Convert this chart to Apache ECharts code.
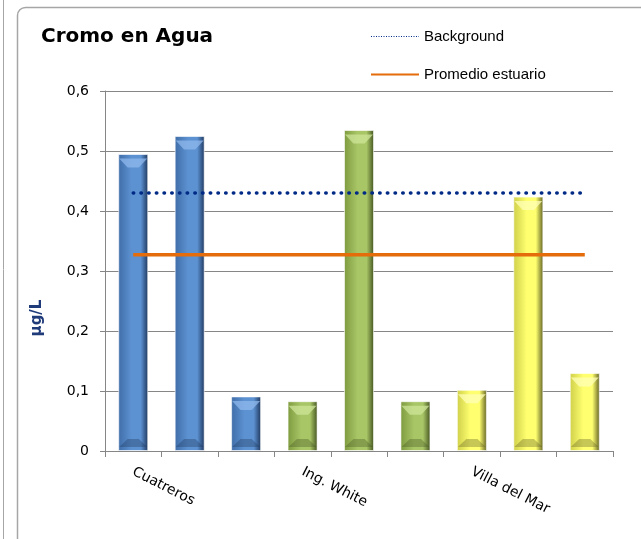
<!DOCTYPE html>
<html>
<head>
<meta charset="utf-8">
<script src="https://cdn.jsdelivr.net/npm/echarts@6/dist/echarts.min.js"></script>
<style>
html, body { margin: 0; padding: 0; background: #fff; }
#main { width: 641px; height: 539px; }
</style>
</head>
<body>
<div id="main"></div>
<script>
var stations = ['Cuatreros', 'Ing. White', 'Villa del Mar'];
var cuatreros = [0.495, 0.525, 0.091];
var ingWhite = [0.083, 0.535, 0.083];
var villaDelMar = [0.102, 0.424, 0.13];
var background = [0.43, 0.43, 0.43, 0.43, 0.43, 0.43, 0.43, 0.43, 0.43];
var promedio = [0.327, 0.327, 0.327, 0.327, 0.327, 0.327, 0.327, 0.327, 0.327];
var yTicks = ['0', '0,1', '0,2', '0,3', '0,4', '0,5', '0,6'];

// colores de cada estacion: claro, medio, oscuro, brillo
var palettes = [
    ['#3f6da8', '#5d92d2', '#1d365c', '#8fb8ec'],
    ['#7e9a3f', '#a8c666', '#435320', '#cde69a'],
    ['#cfcf4a', '#ffff70', '#5f5f22', '#ffffb8']
];

function barColor(p) {
    return new echarts.graphic.LinearGradient(0, 0, 1, 0, [
        {offset: 0, color: p[0]},
        {offset: 0.45, color: p[1]},
        {offset: 0.75, color: p[1]},
        {offset: 1, color: p[2]}
    ]);
}

var categories = [];
var barData = [];
var topData = [];
var baseData = [];
[cuatreros, ingWhite, villaDelMar].forEach(function (vals, g) {
    vals.forEach(function (v, i) {
        categories.push(i === 0 ? stations[g] : '');
        barData.push({value: v, itemStyle: {color: barColor(palettes[g])}});
        topData.push({value: v, itemStyle: {color: palettes[g][3], opacity: 0.75}});
        baseData.push({value: v, itemStyle: {color: palettes[g][2], opacity: 0.35}});
    });
});

var myChart = echarts.init(document.getElementById('main'));
var option = {
    animation: false,
    title: {
        text: 'Cromo en Agua',
        left: 36,
        top: 22,
        textStyle: {
            fontFamily: 'DejaVu Sans',
            fontSize: 20,
            fontWeight: 'bold',
            color: '#000'
        }
    },
    legend: {
        orient: 'vertical',
        left: 365,
        top: 24,
        itemWidth: 48,
        itemHeight: 14,
        itemGap: 23,
        itemStyle: {opacity: 0},
        textStyle: {
            fontFamily: 'Liberation Sans',
            fontSize: 15,
            color: '#000',
            padding: [0, 0, 0, 0]
        },
        data: [
            {name: 'Background', lineStyle: {width: 1.2, type: [1, 1.5], cap: 'butt'}},
            {name: 'Promedio estuario', lineStyle: {width: 2}}
        ]
    },
    graphic: [
        {type: 'line', shape: {x1: 3.5, y1: 0, x2: 3.5, y2: 539}, style: {stroke: '#a6a6a6', lineWidth: 1}},
        {type: 'rect', shape: {x: 17.5, y: 7.5, width: 700, height: 600, r: 8}, style: {fill: 'none', stroke: '#a6a6a6', lineWidth: 1.5}},
        {
            type: 'text',
            x: 37,
            y: 318,
            rotation: Math.PI / 2,
            style: {
                text: 'µg/L',
                fontFamily: 'DejaVu Sans',
                fontSize: 15,
                fontWeight: 'bold',
                fill: '#1f3b7a',
                align: 'center',
                verticalAlign: 'middle'
            }
        }
    ],
    grid: {left: 105, right: 28, top: 91, bottom: 88},
    xAxis: {
        type: 'category',
        data: categories,
        axisLine: {lineStyle: {color: '#868686'}},
        axisTick: {show: true, length: 6, interval: 0, lineStyle: {color: '#868686'}},
        axisLabel: {
            interval: 0,
            rotate: -27,
            margin: 20,
            fontFamily: 'DejaVu Sans',
            fontSize: 14,
            color: '#000'
        }
    },
    yAxis: {
        type: 'value',
        min: 0,
        max: 0.6,
        interval: 0.1,
        axisLine: {show: true, lineStyle: {color: '#868686'}},
        axisTick: {show: true, length: 5, lineStyle: {color: '#868686'}},
        splitLine: {lineStyle: {color: '#868686'}},
        axisLabel: {
            margin: 16,
            fontFamily: 'DejaVu Sans',
            fontSize: 14,
            color: '#000',
            formatter: function (v) { return yTicks[Math.round(v * 10)]; }
        }
    },
    series: [
        {
            name: 'valores',
            type: 'bar',
            barWidth: 30,
            data: barData,
            itemStyle: {borderColor: 'rgba(255,255,255,0.6)', borderWidth: 1}
        },
        {
            name: 'brillo',
            type: 'pictorialBar',
            barWidth: 30,
            barGap: '-100%',
            symbol: 'path://M0,0 L30,0 L21,9 L9,9 Z',
            symbolSize: [28, 9],
            symbolPosition: 'end',
            symbolOffset: [0, '50%'],
            z: 3,
            silent: true,
            data: topData
        },
        {
            name: 'base',
            type: 'pictorialBar',
            barWidth: 30,
            barGap: '-100%',
            symbol: 'path://M9,0 L21,0 L30,9 L0,9 Z',
            symbolSize: [28, 8],
            symbolPosition: 'start',
            symbolOffset: [0, '-50%'],
            z: 3,
            silent: true,
            data: baseData
        },
        {
            name: 'Background',
            type: 'line',
            symbol: 'none',
            z: 5,
            data: background,
            lineStyle: {color: '#002a86', width: 3.5, type: [0.5, 7.2], cap: 'round'},
            itemStyle: {color: '#002a86'}
        },
        {
            name: 'Promedio estuario',
            type: 'line',
            symbol: 'none',
            z: 5,
            data: promedio,
            lineStyle: {color: '#e46c0a', width: 3.5},
            itemStyle: {color: '#e46c0a'}
        }
    ]
};
myChart.setOption(option);
</script>
</body>
</html>
